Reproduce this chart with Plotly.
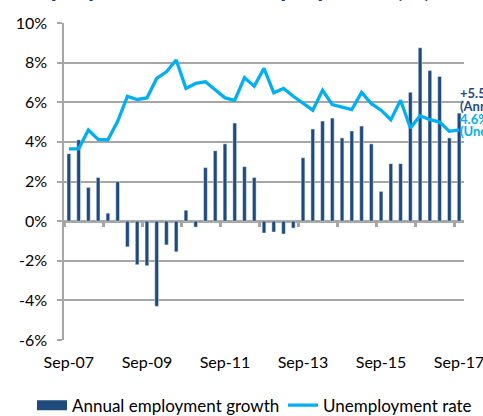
import plotly.graph_objects as go

# ---- data ----
quarters = []
for yr in range(7, 18):
    for m in ["Mar", "Jun", "Sep", "Dec"]:
        quarters.append(f"{m}-{yr:02d}")
quarters = quarters[quarters.index("Sep-07"):quarters.index("Sep-17") + 1]

employment_growth = [3.4, 4.1, 1.7, 2.2, 0.4, 2.0, -1.3, -2.2, -2.25, -4.3,
                     -1.2, -1.55, 0.55, -0.3, 2.7, 3.55, 3.9, 4.95, 2.75, 2.2,
                     -0.6, -0.55, -0.65, -0.35, 3.2, 4.65, 5.05, 5.2, 4.2, 4.55,
                     4.8, 3.9, 1.5, 2.9, 2.9, 6.5, 8.75, 7.6, 7.3, 4.2, 5.45]

unemployment_rate = [3.65, 3.65, 4.6, 4.12, 4.1, 5.04, 6.3, 6.14, 6.22, 7.2,
                     7.54, 8.13, 6.7, 6.95, 7.03, 6.63, 6.22, 6.1, 7.24, 6.81,
                     7.71, 6.48, 6.7, 6.3, 5.93, 5.6, 6.6, 5.88, 5.75, 5.63,
                     6.5, 5.93, 5.6, 5.12, 6.1, 4.7, 5.32, 5.12, 5.0, 4.53, 4.6]

tick_labels = quarters[::8]
y_ticks = list(range(-6, 11, 2))
y_tick_text = [f"{v}%" for v in y_ticks]

BAR = "#1F4A7E"
LINE = "#00B0F0"
GRID = "#A6A6A6"
FONT = "Lato"

fig = go.Figure()
fig.add_trace(go.Bar(x=quarters, y=employment_growth, marker_color=BAR,
                     name="Annual employment growth", showlegend=False,
                     legendgroup="emp"))
fig.add_trace(go.Scatter(x=[None], y=[None], mode="lines",
                         line=dict(color=BAR, width=10),
                         name="Annual employment growth", legendgroup="emp",
                         legend="legend"))
fig.add_trace(go.Scatter(x=quarters, y=unemployment_rate, mode="lines",
                         line=dict(color=LINE, width=3.3),
                         name="Unemployment rate", legend="legend2"))
# axis carrying the tick marks along the zero line
fig.add_trace(go.Scatter(x=[None], y=[None], xaxis="x2", showlegend=False,
                         hoverinfo="skip"))

legend_common = dict(orientation="h", xref="container", yref="container",
                     xanchor="left", y=0.025, yanchor="middle",
                     font=dict(size=17), itemwidth=30,
                     bgcolor="rgba(0,0,0,0)")

fig.update_layout(
    width=483, height=416,
    margin=dict(l=64, r=19, t=23, b=76, autoexpand=False),
    plot_bgcolor="white", paper_bgcolor="white",
    font=dict(family=FONT, size=16, color="#000000"),
    bargap=0.62,
    showlegend=True,
    legend=dict(x=32 / 483, **legend_common),
    legend2=dict(x=283 / 483, **legend_common),
    xaxis=dict(type="category", categoryorder="array", categoryarray=quarters,
               tickvals=tick_labels, ticktext=tick_labels, ticks="",
               showgrid=False, showline=False, zeroline=False,
               range=[-0.5, len(quarters) - 0.5], automargin=False,
               ticklabelstandoff=11, tickfont=dict(size=16)),
    xaxis2=dict(overlaying="x", anchor="free", position=6 / 16, side="bottom",
                range=[-0.5, len(quarters) - 0.5], automargin=False,
                tickvals=[i - 0.5 for i in range(0, len(quarters), 4)],
                ticks="outside", ticklen=5, tickwidth=3, tickcolor=GRID,
                showticklabels=False, showgrid=False, showline=False,
                zeroline=False),
    yaxis=dict(range=[-6, 10], tickvals=y_ticks, ticktext=y_tick_text,
               showgrid=True, gridcolor=GRID, gridwidth=1.5,
               zeroline=True, zerolinecolor=GRID, zerolinewidth=3,
               showline=True, linecolor=GRID, linewidth=1.5, automargin=False,
               ticks="outside", ticklen=5, tickcolor=GRID, tickwidth=1.5,
               ticklabelstandoff=7, tickfont=dict(size=16)),
)

# title (cut off at the top of the picture)
fig.add_annotation(text="<b>Employment and unemployment (%)</b>",
                   xref="paper", yref="paper", x=-0.13, y=1.057,
                   xanchor="left", yanchor="bottom", showarrow=False,
                   font=dict(size=26, color="#1F3D7A"))

# right-hand value labels (cut off at the picture edge)
right_labels = [("+5.5%", BAR, 0.778), ("(Annual employment growth)", BAR, 0.738),
                ("4.6%", LINE, 0.698), ("(Unemployment rate)", LINE, 0.658)]
for txt, col, yy in right_labels:
    fig.add_annotation(text=f"<b>{txt}</b>", xref="paper", yref="paper",
                       x=0.986, y=yy, xanchor="left", yanchor="middle",
                       showarrow=False, font=dict(size=13, color=col))

fig.write_html("out.html", config={"displayModeBar": False},
               post_script="document.body.style.margin='0';")
